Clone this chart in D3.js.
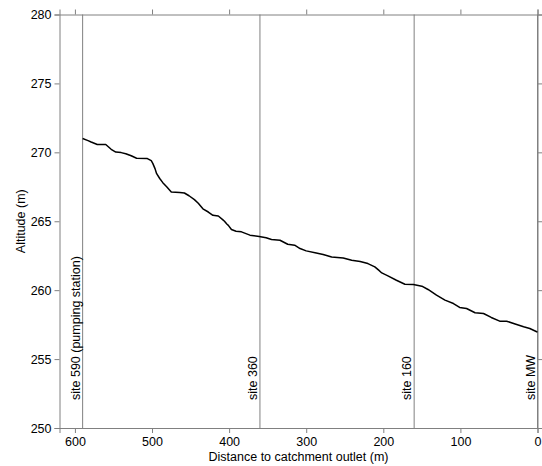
<!DOCTYPE html>
<html><head><meta charset="utf-8">
<script src="https://cdn.jsdelivr.net/npm/d3@7"></script>
<style>
body{margin:0;background:#fff;}
svg{display:block;font-family:"Liberation Sans",Arial,sans-serif;}
</style></head>
<body><svg id="c" width="542" height="466"></svg>
<script>
const distance = [590,583,579,571,560,553,547,540,534,527,520,506,501,499,496,494,490,486,481,475,464,458,452,445,440,434,427,421,414,408,406,403,401,397,391,384,373,361,352,345,334,324,315,308,300,287,278,267,252,241,230,220,211,206,202,194,183,172,161,150,142,131,120,109,101,92,81,70,60,49,40,29,18,10,1,0];
const altitude = [271.0,270.85,270.75,270.57,270.57,270.22,270.02,269.98,269.9,269.75,269.57,269.55,269.4,269.2,268.8,268.45,268.1,267.8,267.5,267.12,267.08,267.05,266.85,266.57,266.3,265.9,265.67,265.43,265.38,265.1,265.0,264.8,264.7,264.4,264.28,264.23,263.99,263.9,263.8,263.67,263.62,263.33,263.26,263.02,262.85,262.7,262.59,262.41,262.34,262.17,262.08,261.93,261.69,261.45,261.25,261.04,260.72,260.43,260.41,260.29,260.05,259.64,259.28,259.03,258.75,258.67,258.36,258.31,258.02,257.75,257.75,257.54,257.34,257.22,256.98,256.95];
const siteNames = ["site 590 (pumping station)","site 360","site 160","site MW"];
const sitePos = [590,360,160,0];
const xTicks = [600,500,400,300,200,100,0];
const yTicks = [250,255,260,265,270,275,280];

const svg = d3.select("#c");
const L=59.5,R=537.5,T=14.5,B=428;
const FS="12.5px";
const x = d3.scaleLinear().domain([620,0]).range([L,R]);
const y = d3.scaleLinear().domain([250,280]).range([B,T]);
const grey="#808080";

function styleAxis(g){
  g.selectAll(".domain").attr("stroke",grey);
  g.selectAll(".tick line").attr("stroke",grey);
  g.selectAll(".tick text").attr("fill","#000").style("font-size",FS).style("font-family","Liberation Sans, Arial, sans-serif");
}
// site lines
svg.selectAll("line.site").data(sitePos).join("line").attr("class","site")
  .attr("x1",d=>x(d)).attr("x2",d=>x(d)).attr("y1",y(280)).attr("y2",y(250))
  .attr("stroke",grey).attr("stroke-width",1);

svg.append("g").attr("transform",`translate(0,${B})`)
  .call(d3.axisBottom(x).tickValues(xTicks).tickSize(5).tickPadding(4).tickFormat(d3.format("d"))).call(styleAxis);
svg.append("g").attr("transform",`translate(0,${T})`)
  .call(d3.axisTop(x).tickValues(xTicks).tickSize(5).tickFormat("")).call(styleAxis);
svg.append("g").attr("transform",`translate(${L},0)`)
  .call(d3.axisLeft(y).tickValues(yTicks).tickSize(5).tickPadding(3).tickFormat(d3.format("d"))).call(styleAxis);
svg.append("g").attr("transform",`translate(${R},0)`)
  .call(d3.axisRight(y).tickValues(yTicks).tickSize(5).tickFormat("")).call(styleAxis);

// site labels
svg.selectAll("text.site").data(sitePos).join("text").attr("class","site")
  .attr("transform",d=>`translate(${x(d)-3},400) rotate(-90)`)
  .attr("text-anchor","start").style("font-size",FS).attr("fill","#000")
  .text((d,i)=>siteNames[i]);

// profile line
const pts = distance.map((d,i)=>[d,altitude[i]]);
svg.append("path").datum(pts)
  .attr("d",d3.line().x(d=>x(d[0])).y(d=>y(d[1])))
  .attr("fill","none").attr("stroke","#000").attr("stroke-width",1.5).attr("stroke-linejoin","round");

svg.append("text").attr("x",(L+R)/2).attr("y",461).attr("text-anchor","middle")
  .style("font-size",FS).text("Distance to catchment outlet (m)");
svg.append("text").attr("transform",`translate(25,${(T+B)/2}) rotate(-90)`).attr("text-anchor","middle")
  .style("font-size",FS).text("Altitude (m)");
</script></body></html>
